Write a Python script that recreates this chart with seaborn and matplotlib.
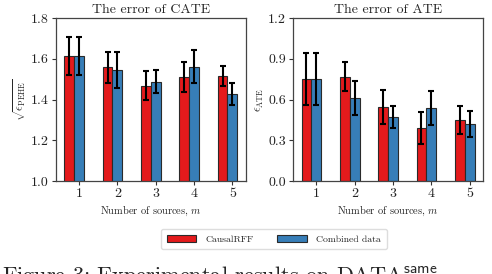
import matplotlib
matplotlib.use('Agg')
import matplotlib.pyplot as plt
import seaborn as sns
import pandas as pd
import numpy as np

# values
m_sources = [1, 2, 3, 4, 5]
methods = ['CausalRFF', 'Combined data']

cate_rff = [1.615, 1.558, 1.468, 1.512, 1.517]
cate_rff_err = [0.094, 0.076, 0.070, 0.073, 0.050]
cate_comb = [1.615, 1.545, 1.488, 1.562, 1.428]
cate_comb_err = [0.094, 0.090, 0.055, 0.082, 0.053]

ate_rff = [0.751, 0.768, 0.546, 0.390, 0.451]
ate_rff_err = [0.190, 0.106, 0.122, 0.120, 0.103]
ate_comb = [0.751, 0.612, 0.470, 0.539, 0.419]
ate_comb_err = [0.190, 0.122, 0.080, 0.124, 0.095]

sns.set_theme(style='ticks')
plt.rcParams['font.family'] = 'serif'
plt.rcParams['font.serif'] = ['cmr10', 'DejaVu Serif']
plt.rcParams['mathtext.fontset'] = 'cm'
plt.rcParams['axes.formatter.use_mathtext'] = True
plt.rcParams['axes.unicode_minus'] = False

colors = ['#e41a1c', '#377eb8']
bar_w = 0.512


def make_df(v1, v2):
    return pd.DataFrame({
        'm': m_sources * 2,
        'value': v1 + v2,
        'method': [methods[0]] * len(v1) + [methods[1]] * len(v2),
    })


def draw_panel(ax, v1, e1, v2, e2, title, ylabel, ylim, yticks):
    df = make_df(v1, v2)
    sns.barplot(data=df, x='m', y='value', hue='method', hue_order=methods,
                palette=colors, width=bar_w, errorbar=None, ax=ax,
                edgecolor='#2a2a2a', linewidth=0.8, saturation=1)
    # error bars on each bar
    for cont, vals, errs in zip(ax.containers, [v1, v2], [e1, e2]):
        xs = [b.get_x() + b.get_width() / 2 for b in cont]
        ax.errorbar(xs, vals, yerr=errs, fmt='none', ecolor='black',
                    elinewidth=1.5, capsize=2.5, capthick=1.5, zorder=5)
    ax.set_xticks(np.arange(len(m_sources)) + bar_w / 4)
    ax.set_xticklabels([str(m) for m in m_sources])
    ax.set_xlim(-0.472, 4.48)
    ax.set_ylim(*ylim)
    ax.set_yticks(yticks)
    ax.set_yticklabels([f'{t:.1f}' for t in yticks])
    ax.set_title(title, fontsize=10, pad=4)
    ax.set_xlabel(r'Number of sources, $m$', fontsize=7.5, labelpad=3)
    ax.set_ylabel(ylabel, fontsize=8.5, labelpad=2)
    ax.tick_params(axis='both', labelsize=10, length=3, width=0.8, pad=2,
                   colors='#333333', labelcolor='#222222')
    for s in ax.spines.values():
        s.set_visible(True)
        s.set_color('#444444')
        s.set_linewidth(0.9)
    ax.get_legend().remove()


fig = plt.figure(figsize=(4.92, 2.74), dpi=100)
ax1 = fig.add_axes([0.1138, 0.339, 0.386, 0.595])
ax2 = fig.add_axes([0.596, 0.339, 0.386, 0.595])

draw_panel(ax1, cate_rff, cate_rff_err, cate_comb, cate_comb_err,
           'The error of CATE', r'$\sqrt{\epsilon_{\mathrm{PEHE}}}$',
           (1.0, 1.8), [1.0, 1.2, 1.4, 1.6, 1.8])
draw_panel(ax2, ate_rff, ate_rff_err, ate_comb, ate_comb_err,
           'The error of ATE', r'$\epsilon_{\mathrm{ATE}}$',
           (0.0, 1.2), [0.0, 0.3, 0.6, 0.9, 1.2])

handles = [plt.Rectangle((0, 0), 1, 1, facecolor=c, edgecolor='#2a2a2a', linewidth=0.8)
           for c in colors]
fig.legend(handles, methods, loc='center', bbox_to_anchor=(0.557, 0.127), ncol=2,
           fontsize=7, frameon=True, framealpha=1, edgecolor='#dddddd',
           handlelength=3.0, handleheight=0.7, handletextpad=1.0,
           columnspacing=2.4, borderpad=0.6)

# figure caption, cut off at the bottom edge as in the source image
fig.text(0.005, 0.036, r'Figure 3: Experimental results on DATA$^{\mathsf{same}}$',
         fontsize=16, va='top', ha='left')

fig.savefig('out.png', dpi=100)
